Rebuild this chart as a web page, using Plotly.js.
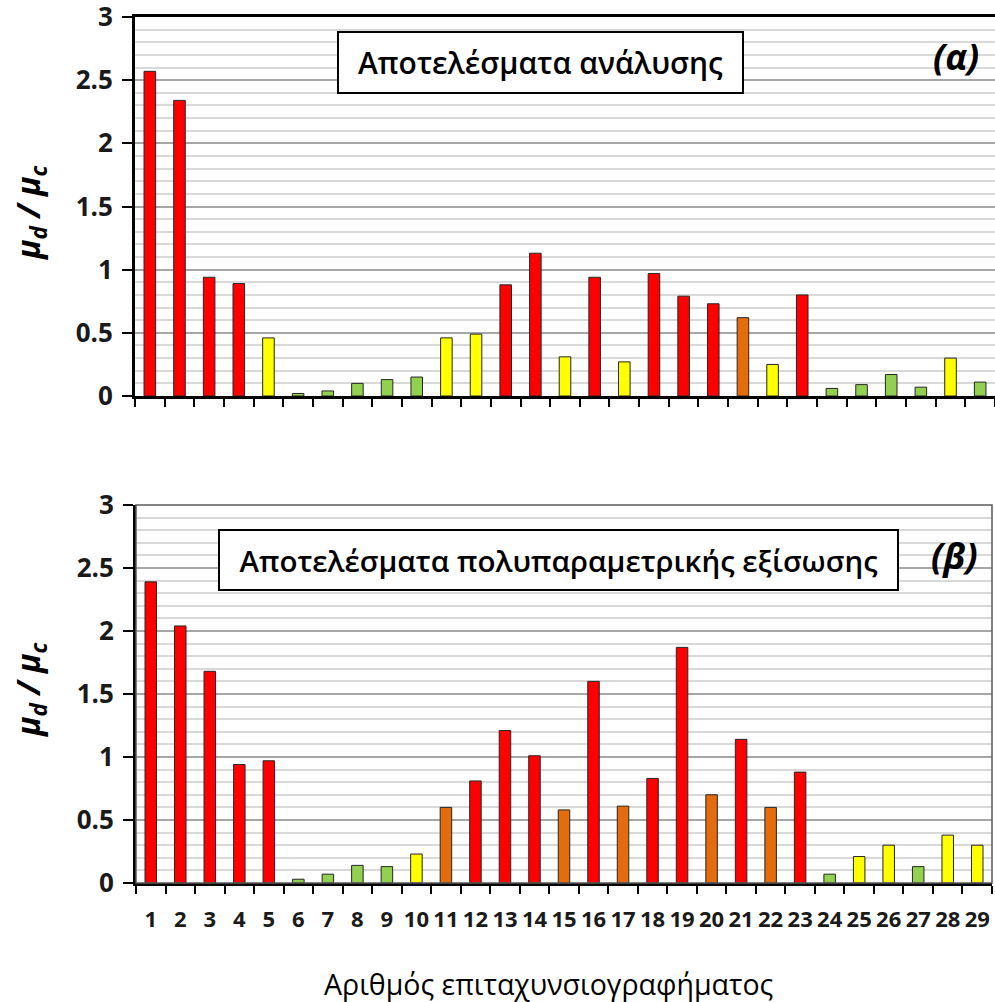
<!DOCTYPE html>
<html>
<head>
<meta charset="utf-8">
<script src="https://cdn.plot.ly/plotly-3.0.1.min.js"></script>
<style>html,body{margin:0;padding:0;background:#fff;}#chart{width:995px;height:1002px;}</style>
</head>
<body>
<div id="chart"></div>
<script>
const categories = ["1","2","3","4","5","6","7","8","9","10","11","12","13","14","15","16","17","18","19","20","21","22","23","24","25","26","27","28","29"];
const valuesA = [2.57,2.34,0.94,0.89,0.46,0.02,0.04,0.10,0.13,0.15,0.46,0.49,0.88,1.13,0.31,0.94,0.27,0.97,0.79,0.73,0.62,0.25,0.80,0.06,0.09,0.17,0.07,0.30,0.11];
const classesA = ["R","R","R","R","Y","G","G","G","G","G","Y","Y","R","R","Y","R","Y","R","R","R","O","Y","R","G","G","G","G","Y","G"];
const valuesB = [2.39,2.04,1.68,0.94,0.97,0.03,0.07,0.14,0.13,0.23,0.60,0.81,1.21,1.01,0.58,1.60,0.61,0.83,1.87,0.70,1.14,0.60,0.88,0.07,0.21,0.30,0.13,0.38,0.30];
const classesB = ["R","R","R","R","R","G","G","G","G","Y","O","R","R","R","O","R","O","R","R","O","R","O","R","G","Y","Y","G","Y","Y"];
const titleA = "Αποτελέσματα ανάλυσης";
const titleB = "Αποτελέσματα πολυπαραμετρικής εξίσωσης";
const tagA = "(α)";
const tagB = "(β)";
const yTitle = "μ<sub>d</sub> / μ<sub>c</sub>";
const xTitle = "Αριθμός επιταχυνσιογραφήματος";

const palette = {R:"#FF0000", Y:"#FFFF00", G:"#92D050", O:"#E46C0A"};
const W = 995, H = 1002;
const px = v => v / W;
const py = v => 1 - v / H;

function barTrace(vals, cls, xa, ya) {
  return {
    type: "bar", x: categories, y: vals, xaxis: xa, yaxis: ya,
    width: 0.39,
    marker: {color: cls.map(c => palette[c]), line: {color: "#262626", width: 1}},
    hoverinfo: "x+y", showlegend: false
  };
}

const yaxisBase = {
  range: [0, 3], dtick: 0.5, tick0: 0,
  showgrid: true, gridcolor: "#A6A6A6", gridwidth: 2,
  minor: {dtick: 0.1, showgrid: true, gridcolor: "#D9D9D9", gridwidth: 2},
  showline: true, linecolor: "#000", linewidth: 3,
  ticks: "outside", ticklen: 10, tickwidth: 2, tickcolor: "#000",
  tickfont: {family: "Open Sans", size: 26, color: "#1a1a1a", weight: "bold"},
  ticklabelstandoff: 4, ticklabeloverflow: "allow",
  zeroline: false, fixedrange: true
};
const xaxisBase = {
  type: "category", tickson: "boundaries", tickangle: 0,
  showline: true, linecolor: "#000", linewidth: 3,
  ticks: "outside", ticklen: 8, tickwidth: 2, tickcolor: "#000",
  showgrid: false, zeroline: false, fixedrange: true,
  ticklabeloverflow: "allow",
  tickfont: {family: "Open Sans", size: 22, color: "#1a1a1a", weight: "bold"}
};

const layout = {
  width: W, height: H,
  margin: {l: 0, r: 0, t: 0, b: 0},
  paper_bgcolor: "#fff", plot_bgcolor: "#fff",
  xaxis: Object.assign({}, xaxisBase, {domain: [px(135), 1], anchor: "y", showticklabels: false, mirror: true}),
  yaxis: Object.assign({}, yaxisBase, {domain: [py(396), py(17)], anchor: "x"}),
  xaxis2: Object.assign({}, xaxisBase, {domain: [px(136), px(992)], anchor: "y2", showticklabels: true, ticklabelstandoff: 15}),
  yaxis2: Object.assign({}, yaxisBase, {domain: [py(883), py(505)], anchor: "x2"}),
  shapes: [
    {type: "rect", xref: "x2 domain", yref: "y2 domain", x0: 0, x1: 1, y0: 0, y1: 1,
     line: {color: "#595959", width: 1.5}, layer: "above"}
  ],
  annotations: [
    {text: titleA, xref: "paper", yref: "paper", x: px(540.5), y: py(62.5), xanchor: "center", yanchor: "middle",
     showarrow: false, bgcolor: "#fff", bordercolor: "#000", borderwidth: 2, borderpad: 0, width: 403, height: 59,
     font: {family: "Open Sans", size: 30, color: "#000", weight: 600}},
    {text: titleB, xref: "paper", yref: "paper", x: px(558.5), y: py(560), xanchor: "center", yanchor: "middle",
     showarrow: false, bgcolor: "#fff", bordercolor: "#000", borderwidth: 2, borderpad: 0, width: 677, height: 58,
     font: {family: "Open Sans", size: 29.5, color: "#000", weight: 600}},
    {text: tagA, xref: "paper", yref: "paper", x: px(956), y: py(57), xanchor: "center", yanchor: "middle",
     showarrow: false, font: {family: "Open Sans", size: 36, color: "#000", weight: "bold", style: "italic"}},
    {text: tagB, xref: "paper", yref: "paper", x: px(954), y: py(555), xanchor: "center", yanchor: "middle",
     showarrow: false, font: {family: "Open Sans", size: 36, color: "#000", weight: "bold", style: "italic"}},
    {text: yTitle, xref: "paper", yref: "paper", x: px(30), y: py(213), xanchor: "center", yanchor: "middle", textangle: -90,
     showarrow: false, font: {family: "Open Sans", size: 32, color: "#000", weight: "bold", style: "italic"}},
    {text: yTitle, xref: "paper", yref: "paper", x: px(30), y: py(690), xanchor: "center", yanchor: "middle", textangle: -90,
     showarrow: false, font: {family: "Open Sans", size: 32, color: "#000", weight: "bold", style: "italic"}},
    {text: xTitle, xref: "paper", yref: "paper", x: px(548), y: py(984), xanchor: "center", yanchor: "middle",
     showarrow: false, font: {family: "Open Sans", size: 28.5, color: "#000"}}
  ]
};

Plotly.newPlot("chart", [barTrace(valuesA, classesA, "x", "y"), barTrace(valuesB, classesB, "x2", "y2")], layout, {displayModeBar: false, staticPlot: true});
</script>
</body>
</html>
